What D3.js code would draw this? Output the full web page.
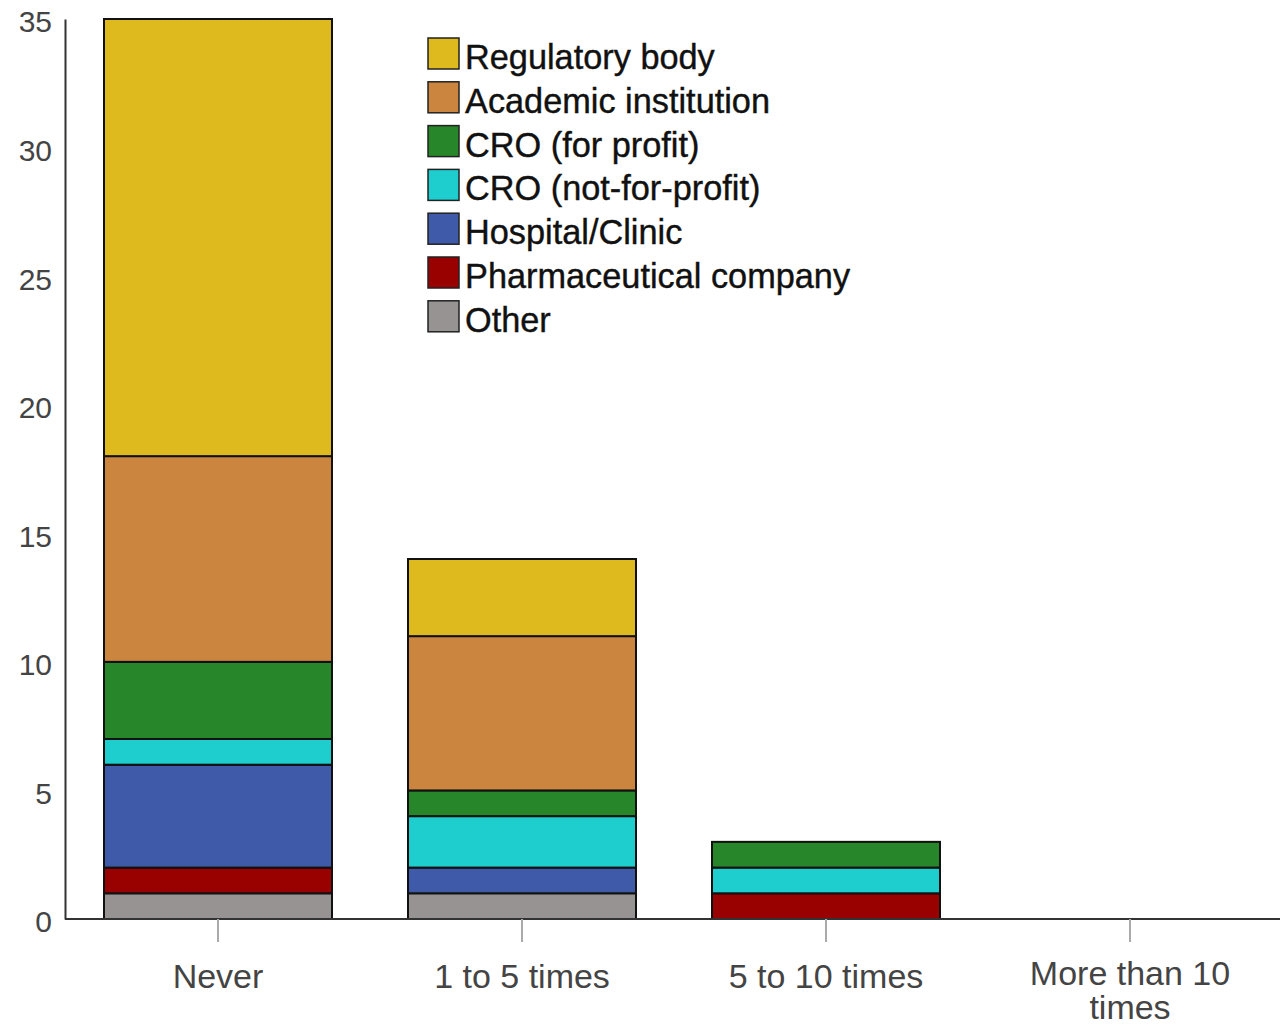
<!DOCTYPE html>
<html>
<head>
<meta charset="utf-8">
<script src="https://cdn.jsdelivr.net/npm/d3@7"></script>
<style>
  body { margin: 0; background: white; }
  svg { display: block; font-family: "Liberation Sans", Arial, sans-serif; }
</style>
</head>
<body>
<div id="chart"></div>
<script>
// categories on the x axis
const categories = ["Never", "1 to 5 times", "5 to 10 times", "More than 10 times"];

// stack order, bottom to top
const series = ["Other", "Pharmaceutical company", "Hospital/Clinic", "CRO (not-for-profit)",
                "CRO (for profit)", "Academic institution", "Regulatory body"];

const colors = ["#979393", "#990000", "#3f5aa8", "#1ecece", "#28862a", "#cc853f", "#dfba1f"];

// counts per category, one array per series (same order as series)
const otherVals      = [1, 1, 0, 0];
const pharmaVals     = [1, 0, 1, 0];
const hospitalVals   = [4, 1, 0, 0];
const croNfpVals     = [1, 2, 1, 0];
const croFpVals      = [3, 1, 1, 0];
const academicVals   = [8, 6, 0, 0];
const regulatoryVals = [17, 3, 0, 0];

const yTicks = [0, 5, 10, 15, 20, 25, 30, 35];

const width = 1280, height = 1026;
const seriesVals = [otherVals, pharmaVals, hospitalVals, croNfpVals, croFpVals, academicVals, regulatoryVals];

const table = categories.map((c, i) => {
  let row = { category: c };
  series.forEach((s, j) => row[s] = seriesVals[j][i]);
  return row;
});

const stacked = d3.stack().keys(series)(table);

const svg = d3.select("#chart")
  .append("svg")
  .attr("width", width)
  .attr("height", height);

const x = d3.scaleBand()
  .domain(categories)
  .range([66, 1282])
  .paddingInner(0.25)
  .paddingOuter(0.125);

const y = d3.scaleLinear()
  .domain([0, 35])
  .range([919, 19]);

// bars
svg.append("g")
  .selectAll("g")
  .data(stacked)
  .enter()
  .append("g")
  .attr("fill", (d, i) => colors[i])
  .selectAll("rect")
  .data(d => d.filter(p => p[1] - p[0] > 0))
  .enter()
  .append("rect")
  .attr("x", d => x(d.data.category))
  .attr("width", x.bandwidth())
  .attr("y", d => y(d[1]))
  .attr("height", d => y(d[0]) - y(d[1]))
  .attr("stroke", "#111")
  .attr("stroke-width", 2);

// y axis
const yAxis = svg.append("g")
  .attr("transform", "translate(65,0)")
  .call(d3.axisLeft(y).tickValues(yTicks).tickSize(0).tickPadding(13));
yAxis.select(".domain").attr("stroke", "#333").attr("stroke-width", 2);
yAxis.selectAll("text")
  .attr("font-size", 30)
  .attr("dy", "0.43em")
  .attr("fill", "#444")
  .attr("font-family", "Liberation Sans, Arial, sans-serif");

// x axis
const xAxis = svg.append("g")
  .attr("transform", "translate(0,919)")
  .call(d3.axisBottom(x).tickSize(23).tickPadding(22).tickSizeOuter(0));
xAxis.select(".domain")
  .attr("d", "M65,0H1280")
  .attr("stroke", "#333")
  .attr("stroke-width", 2);
xAxis.selectAll(".tick line").attr("stroke", "#aaa").attr("stroke-width", 2);
xAxis.selectAll(".tick text")
  .attr("font-size", 34)
  .attr("fill", "#444")
  .attr("font-family", "Liberation Sans, Arial, sans-serif")
  .each(function(d) {
    const t = d3.select(this);
    if (d === "More than 10 times") {
      t.text(null);
      t.append("tspan").attr("x", 0).attr("dy", "0.62em").text("More than 10");
      t.append("tspan").attr("x", 0).attr("dy", "1.0em").text("times");
    }
  });

// legend, top to bottom
const legendItems = series.slice().reverse();
const legendColors = colors.slice().reverse();
const legend = svg.append("g")
  .attr("transform", "translate(428,38)");

const item = legend.selectAll("g")
  .data(legendItems)
  .enter()
  .append("g")
  .attr("transform", (d, i) => `translate(0,${i * 43.8})`);

item.append("rect")
  .attr("width", 31)
  .attr("height", 31)
  .attr("fill", (d, i) => legendColors[i])
  .attr("stroke", "#222")
  .attr("stroke-width", 1.5);

item.append("text")
  .attr("x", 37)
  .attr("y", 31)
  .attr("font-size", 34.3)
  .attr("fill", "#111")
  .attr("stroke", "#111")
  .attr("stroke-width", 0.4)
  .text(d => d);
</script>
</body>
</html>
